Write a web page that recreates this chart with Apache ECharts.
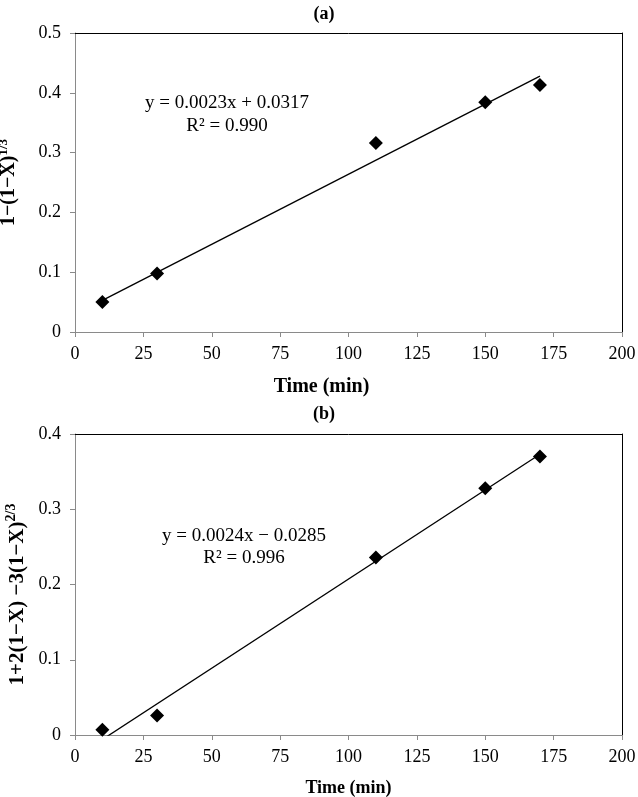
<!DOCTYPE html>
<html>
<head>
<meta charset="utf-8">
<script src="https://cdn.jsdelivr.net/npm/echarts@6/dist/echarts.min.js"></script>
<style>
html,body{margin:0;padding:0;background:#fff;}
#chart{width:638px;height:797px;}
</style>
</head>
<body>
<div id="chart"></div>
<script>
// ---- data ----
const timeA = [10, 30, 110, 150, 170];
const valueA = [0.050, 0.098, 0.316, 0.384, 0.413];
const fitTimeA = [10, 170];
const fitValueA = [0.053, 0.428];

const timeB = [10, 30, 110, 150, 170];
const valueB = [0.007, 0.026, 0.236, 0.328, 0.370];
const fitTimeB = [10, 170];
const fitValueB = [-0.006, 0.373];

const titleA = '(a)';
const titleB = '(b)';
const xName = 'Time (min)';
const eqA = ['y = 0.0023x + 0.0317', 'R² = 0.990'];
const eqB = ['y = 0.0024x − 0.0285', 'R² = 0.996'];

const FONT = '"Liberation Serif", "Times New Roman", serif';
const GRAY = '#8a8a8a';

function pairs(xs, ys) { return xs.map((x, i) => [x, ys[i]]); }

function xAxisMain(gridIndex, nameSize, nameGap, namePad) {
  return {
    gridIndex, type: 'value', min: 0, max: 200, interval: 25,
    name: xName, nameLocation: 'middle', nameGap: nameGap,
    nameTextStyle: { fontFamily: FONT, fontWeight: 'bold', fontSize: nameSize, color: '#000', padding: namePad },
    axisLine: { show: true, onZero: false, lineStyle: { color: GRAY, width: 1 } },
    axisTick: { show: true, inside: false, length: 5, lineStyle: { color: GRAY } },
    axisLabel: { fontFamily: FONT, fontSize: 18, color: '#000', margin: 13 },
    splitLine: { show: false }
  };
}
function xAxisTop(gridIndex) {
  return {
    gridIndex, type: 'value', position: 'top', min: 0, max: 200,
    axisLine: { show: true, onZero: false, lineStyle: { color: '#000', width: 1 } },
    axisTick: { show: false }, axisLabel: { show: false }, splitLine: { show: false }
  };
}
function yAxisMain(gridIndex, max, nameRich, nameGap, namePad, nameSize) {
  return {
    gridIndex, type: 'value', min: 0, max: max, interval: 0.1,
    name: nameRich, nameLocation: 'middle', nameGap: nameGap, nameRotate: 90,
    nameTextStyle: {
      padding: namePad,
      rich: {
        m: { fontFamily: FONT, fontWeight: 'bold', fontSize: nameSize, color: '#000', lineHeight: nameSize + 4 },
        s: { fontFamily: FONT, fontWeight: 'bold', fontSize: Math.round(nameSize * 0.65), color: '#000', lineHeight: Math.round(nameSize * 0.7), verticalAlign: 'top' }
      }
    },
    axisLine: { show: true, onZero: false, lineStyle: { color: GRAY, width: 1 } },
    axisTick: { show: true, inside: false, length: 5, lineStyle: { color: GRAY } },
    axisLabel: { fontFamily: FONT, fontSize: 18, color: '#000', margin: 14 },
    splitLine: { show: false }
  };
}
function yAxisRight(gridIndex, max) {
  return {
    gridIndex, type: 'value', position: 'right', min: 0, max: max,
    axisLine: { show: true, onZero: false, lineStyle: { color: '#000', width: 1 } },
    axisTick: { show: false }, axisLabel: { show: false }, splitLine: { show: false }
  };
}

const chart = echarts.init(document.getElementById('chart'), null, { renderer: 'canvas' });

const option = {
  backgroundColor: '#fff',
  animation: false,
  title: [
    { text: titleA, left: 319, top: 0, textAlign: 'center',
      textStyle: { fontFamily: FONT, fontWeight: 'bold', fontSize: 18, color: '#000' } },
    { text: titleB, left: 319, top: 400, textAlign: 'center',
      textStyle: { fontFamily: FONT, fontWeight: 'bold', fontSize: 18, color: '#000' } }
  ],
  grid: [
    { left: 75, top: 33, width: 547, height: 299, containLabel: false, outerBoundsMode: 'none' },
    { left: 75, top: 434, width: 547, height: 301, containLabel: false, outerBoundsMode: 'none' }
  ],
  xAxis: [
    xAxisMain(0, 20, 45, [0, 54, 0, 0]),
    xAxisTop(0),
    xAxisMain(1, 18, 44, [0, 0, 0, 0]),
    xAxisTop(1)
  ],
  yAxis: [
    yAxisMain(0, 0.5, '{m|1−(1−X)}{s|1/3}', 54, [0, 0, 0, 0], 20),
    yAxisRight(0, 0.5),
    yAxisMain(1, 0.4, '{m|1+2(1−X) −3(1−X)}{s|2/3}', 38, [0, 20, 0, 0], 21),
    yAxisRight(1, 0.4)
  ],
  series: [
    { type: 'line', xAxisIndex: 0, yAxisIndex: 0, data: pairs(fitTimeA, fitValueA),
      symbol: 'none', lineStyle: { color: '#000', width: 1.3 }, clip: true, z: 2 },
    { type: 'scatter', xAxisIndex: 0, yAxisIndex: 0, data: pairs(timeA, valueA),
      symbol: 'diamond', symbolSize: 14, itemStyle: { color: '#000', opacity: 1 }, z: 3 },
    { type: 'line', xAxisIndex: 2, yAxisIndex: 2, data: pairs(fitTimeB, fitValueB),
      symbol: 'none', lineStyle: { color: '#000', width: 1.3 }, clip: true, z: 2 },
    { type: 'scatter', xAxisIndex: 2, yAxisIndex: 2, data: pairs(timeB, valueB),
      symbol: 'diamond', symbolSize: 14, itemStyle: { color: '#000', opacity: 1 }, z: 3 }
  ],
  graphic: [
    { type: 'text', x: 227, y: 115, style: { text: eqA.join('\n'), fontFamily: FONT, fontSize: 19, lineHeight: 23, fill: '#000', align: 'center', verticalAlign: 'middle' } },
    { type: 'text', x: 244, y: 547, style: { text: eqB.join('\n'), fontFamily: FONT, fontSize: 19, lineHeight: 22, fill: '#000', align: 'center', verticalAlign: 'middle' } }
  ]
};
chart.setOption(option);
</script>
</body>
</html>
